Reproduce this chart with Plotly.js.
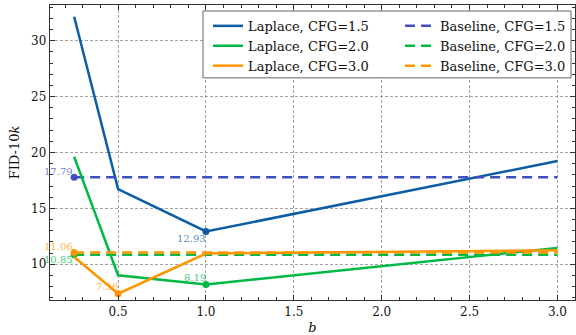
<!DOCTYPE html>
<html>
<head>
<meta charset="utf-8">
<script src="https://cdn.plot.ly/plotly-3.0.1.min.js"></script>
<style>html,body{margin:0;padding:0;background:#fff;}#chart{width:576px;height:335px;}</style>
</head>
<body>
<div id="chart"></div>
<script>
// ---- data ----
const bValues = [0.25, 0.5, 1.0, 3.0];
const laplace15 = [32.15, 16.73, 12.93, 19.24];
const laplace20 = [19.62, 9.01, 8.19, 11.46];
const laplace30 = [10.65, 7.36, 10.96, 11.25];
const baselineValues = [17.79, 10.85, 11.06];
const cfgLabels = ["1.5", "2.0", "3.0"];
const xTickVals = [0.5, 1.0, 1.5, 2.0, 2.5, 3.0];
const xTickText = ["0.5", "1.0", "1.5", "2.0", "2.5", "3.0"];
const yTickVals = [10, 15, 20, 25, 30];

const laplaceSeries = [laplace15, laplace20, laplace30];
const laplaceColors = ["#0C5DA5", "#00B945", "#FF9500"];
const baselineColors = ["#3F4FBF", "#00B945", "#FF9500"];
const labelColors = ["rgba(12,93,165,0.75)", "rgba(0,185,69,0.75)", "rgba(255,149,0,0.75)"];
const baseLabelColors = ["rgba(63,79,191,0.75)", "rgba(0,185,69,0.75)", "rgba(255,149,0,0.75)"];
const FONT = "DejaVu Serif, serif";

const traces = [];
const annotations = [];
const xFirst = bValues[0], xLast = bValues[bValues.length - 1];

for (let i = 0; i < 3; i++) {
  const ys = laplaceSeries[i];
  traces.push({
    x: bValues, y: ys, mode: "lines", type: "scatter",
    name: "Laplace, CFG=" + cfgLabels[i], legend: "legend", legendrank: 1 + i,
    line: {color: laplaceColors[i], width: 2.5}
  });
  traces.push({
    x: [xFirst, xLast], y: [baselineValues[i], baselineValues[i]],
    mode: "lines", type: "scatter",
    name: "Baseline, CFG=" + cfgLabels[i], legend: "legend2", legendrank: 1 + i,
    line: {color: baselineColors[i], width: 2.5, dash: "10px,6px"}
  });
  traces.push({
    x: [xFirst], y: [baselineValues[i]], mode: "markers", type: "scatter",
    showlegend: false, marker: {color: baselineColors[i], size: 7}
  });
}
// minimum markers for Laplace
const minIdx = laplaceSeries.map(ys => ys.indexOf(Math.min(...ys)));
for (let i = 0; i < 3; i++) {
  const ys = laplaceSeries[i];
  traces.push({
    x: [bValues[minIdx[i]]], y: [ys[minIdx[i]]], mode: "markers", type: "scatter",
    showlegend: false, marker: {color: laplaceColors[i], size: 7}
  });
}
// labels
const minLabelPos = [
  {yanchor: "top", yshift: 1, xshift: 2},
  {yanchor: "bottom", yshift: -1, xshift: 2},
  {yanchor: "bottom", yshift: 0, xshift: 2}
];
for (let i = 0; i < 3; i++) {
  const ys = laplaceSeries[i];
  const p = minLabelPos[i];
  annotations.push({
    x: bValues[minIdx[i]], y: ys[minIdx[i]], xref: "x", yref: "y",
    text: ys[minIdx[i]].toFixed(2), showarrow: false,
    xanchor: "right", yanchor: p.yanchor, xshift: p.xshift, yshift: p.yshift,
    font: {family: FONT, size: 10, color: labelColors[i]}
  });
}
const baseLabelPos = [
  {yanchor: "bottom", yshift: -2},
  {yanchor: "top", yshift: 3},
  {yanchor: "bottom", yshift: -2}
];
for (let i = 0; i < 3; i++) {
  const p = baseLabelPos[i];
  annotations.push({
    x: xFirst, y: baselineValues[i], xref: "x", yref: "y",
    text: baselineValues[i].toFixed(2), showarrow: false,
    xanchor: "right", yanchor: p.yanchor, xshift: 1, yshift: p.yshift,
    font: {family: FONT, size: 10, color: baseLabelColors[i]}
  });
}

const axisCommon = {
  showline: true, linecolor: "#333", linewidth: 1.2, mirror: "allticks",
  ticks: "inside", ticklen: 5, tickwidth: 1, tickcolor: "#333",
  showgrid: true, gridcolor: "#8c8c8c", griddash: "3px,2px", gridwidth: 0.8,
  zeroline: false, tickfont: {family: FONT, size: 12, color: "#111"}
};

const legendCommon = {
  y: 0.98, xanchor: "left", yanchor: "top", orientation: "v",
  bgcolor: "rgba(0,0,0,0)", borderwidth: 0,
  font: {family: FONT, size: 13, color: "#111"},
  tracegroupgap: 0, itemwidth: 30
};

const layout = {
  width: 576, height: 335,
  margin: {l: 50, r: 1, t: 5, b: 35, autoexpand: false},
  paper_bgcolor: "#fff", plot_bgcolor: "#fff",
  font: {family: FONT, color: "#111"},
  showlegend: true,
  legend: Object.assign({}, legendCommon, {x: 0.301}),
  legend2: Object.assign({}, legendCommon, {x: 0.6667}),
  shapes: [{
    type: "rect", xref: "paper", yref: "paper", layer: "above",
    x0: 0.2914, x1: 0.9924, y0: 0.753, y1: 0.9797,
    fillcolor: "#fff", line: {color: "#666", width: 1}
  }],
  xaxis: Object.assign({}, axisCommon, {
    range: [0.1125, 3.10], tickvals: xTickVals, ticktext: xTickText,
    minor: {dtick: 0.1, ticks: "inside", ticklen: 3, tickcolor: "#333", showgrid: false},
    title: {text: "<i>b</i>", font: {family: FONT, size: 13, color: "#111"}, standoff: 6}
  }),
  yaxis: Object.assign({}, axisCommon, {
    range: [6.8, 33.2], tickvals: yTickVals,
    minor: {dtick: 1, ticks: "inside", ticklen: 3, tickcolor: "#333", showgrid: false},
    title: {text: "FID-10<i>k</i>", font: {family: FONT, size: 13, color: "#111"}, standoff: 8}
  }),
  annotations: annotations
};

Plotly.newPlot("chart", traces, layout, {displayModeBar: false, staticPlot: true});
</script>
</body>
</html>
